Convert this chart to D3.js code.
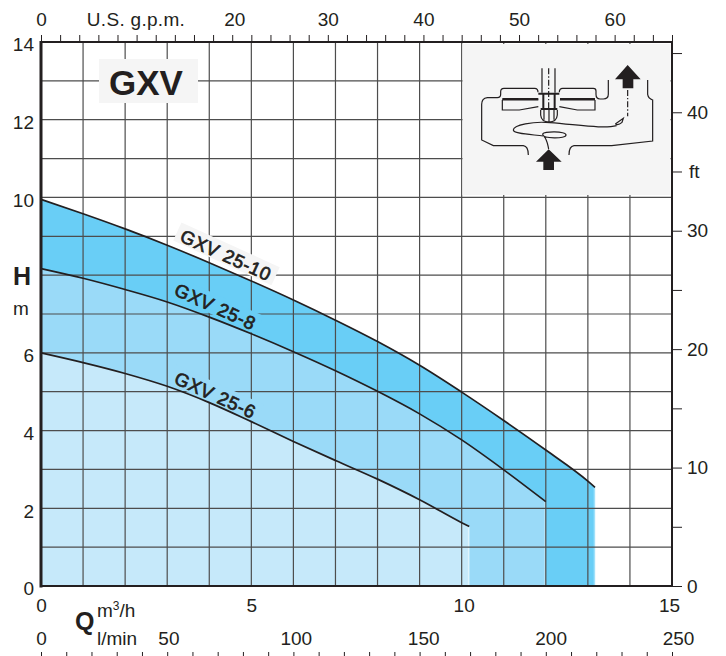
<!DOCTYPE html>
<html>
<head>
<meta charset="utf-8">
<script src="https://cdn.jsdelivr.net/npm/d3@7"></script>
<style>
body { margin: 0; background: #fff; }
svg { display: block; }
text { font-family: "Liberation Sans", Arial, sans-serif; fill: #231f20; }
</style>
</head>
<body>
<script>
// curve readings, Q in m3/h and H in m
var q10 = [0, 1, 2, 3, 4, 5, 6, 7, 8, 9, 10, 11, 12, 13, 13.17];
var h10 = [9.95, 9.58, 9.19, 8.77, 8.32, 7.85, 7.36, 6.84, 6.29, 5.68, 4.99, 4.26, 3.50, 2.70, 2.54];
var q8 = [0, 1, 2, 3, 4, 5, 6, 7, 8, 9, 10, 11, 12];
var h8 = [8.17, 7.92, 7.63, 7.31, 6.92, 6.49, 6.03, 5.54, 5.01, 4.43, 3.76, 2.99, 2.17];
var q6 = [0, 1, 2, 3, 4, 5, 6, 7, 8, 9, 10, 10.18];
var h6 = [6.00, 5.75, 5.47, 5.14, 4.72, 4.23, 3.72, 3.23, 2.75, 2.22, 1.63, 1.53];

var curveNames = ["GXV 25-10", "GXV 25-8", "GXV 25-6"];
var curveFills = ["#69cef6", "#9adaf8", "#c6e9fa"];
var edgeFills = ["#9fe0fa", "#c6e9fa", "#def3fc"];
var labelQ = [4.33, 4.08, 4.08];
var labelH = [8.36, 7.04, 4.76];
var labelBacks = ["#f5f5f5", "#69cef6", "#9adaf8"];

var leftTicks = [0, 2, 4, 6, 10, 12, 14];
var rightLabels = [0, 10, 20, 30, 40];
var gpmLabels = [0, 20, 30, 40, 50, 60];
var m3hLabels = [0, 5, 10, 15];
var lpmLabels = [0, 50, 100, 150, 200, 250];

var W = 726, H = 656;
var left = 41, right = 672, top_ = 42, bottom = 586;
var fontSize = 19;

var svg = d3.select("body").append("svg")
	.attr("width", W)
	.attr("height", H);

var x = d3.scaleLinear().domain([0, 15]).range([left, right]);
var y = d3.scaleLinear().domain([0, 14]).range([bottom, top_]);
var gpm = d3.scaleLinear().domain([0, 66]).range([left, right]);
var ft = d3.scaleLinear().domain([0, 14 * 3.281]).range([bottom, top_]);
var lpm = d3.scaleLinear().domain([0, 250]).range([left, right]);
// the printed l/min numbers sit a little right of their ticks
var lpmText = d3.scaleLinear().domain([0, 250]).range([left, 678]);

var series = [
	{ q: q10, h: h10 },
	{ q: q8, h: h8 },
	{ q: q6, h: h6 }
];

var area = d3.area().curve(d3.curveMonotoneX).x(function (d) { return x(d[0]); }).y0(y(0)).y1(function (d) { return y(d[1]); });
var line = d3.line().curve(d3.curveMonotoneX).x(function (d) { return x(d[0]); }).y(function (d) { return y(d[1]); });

function pts(s) {
	return s.q.map(function (v, i) { return [v, s.h[i]]; });
}

// bands, biggest first
series.forEach(function (s, i) {
	svg.append("path").attr("d", area(pts(s))).attr("fill", curveFills[i]);
	var lastQ = s.q[s.q.length - 1], lastH = s.h[s.h.length - 1];
	svg.append("line")
		.attr("x1", x(lastQ) - 0.6).attr("x2", x(lastQ) - 0.6)
		.attr("y1", y(lastH)).attr("y2", y(0))
		.attr("stroke", edgeFills[i]).attr("stroke-width", 1.5);
});

var grid = svg.append("g").attr("fill", "none").attr("stroke", "#4d4d4d").attr("stroke-width", 1.2);
grid.selectAll("line.v").data(d3.range(1, 15)).enter().append("line")
	.attr("x1", function (d) { return x(d); }).attr("x2", function (d) { return x(d); })
	.attr("y1", y(14)).attr("y2", y(0));
grid.selectAll("line.h").data(d3.range(1, 14)).enter().append("line")
	.attr("x1", x(0)).attr("x2", x(15))
	.attr("y1", function (d) { return y(d); }).attr("y2", function (d) { return y(d); });

// label patches knock out the grid
var angle = 24.5;
curveNames.forEach(function (name, i) {
	var g = svg.append("g")
		.attr("transform", "translate(" + x(labelQ[i]) + "," + y(labelH[i]) + ") rotate(" + angle + ")");
	var w = i == 0 ? 108 : 96;
	g.append("rect").attr("x", -w / 2).attr("y", -18).attr("width", w).attr("height", 20)
		.attr("fill", labelBacks[i]);
});

// curves
series.forEach(function (s) {
	svg.append("path").attr("d", line(pts(s)))
		.attr("fill", "none").attr("stroke", "#231f20").attr("stroke-width", 1.7);
});

curveNames.forEach(function (name, i) {
	svg.append("text")
		.attr("transform", "translate(" + x(labelQ[i]) + "," + y(labelH[i]) + ") rotate(" + angle + ")")
		.attr("text-anchor", "middle")
		.attr("font-size", 18.5)
		.attr("letter-spacing", 0.7)
		.attr("stroke", "#231f20").attr("stroke-width", 0.7)
		.text(name);
});

// frame
svg.append("rect").attr("x", 462.5).attr("y", 44).attr("width", 208).attr("height", 151).attr("fill", "#f5f5f5");
svg.append("line").attr("x1", left).attr("x2", left).attr("y1", top_ - 1).attr("y2", bottom + 1.5).attr("stroke", "#231f20").attr("stroke-width", 3);
svg.append("line").attr("x1", left).attr("x2", right + 1).attr("y1", bottom).attr("y2", bottom).attr("stroke", "#231f20").attr("stroke-width", 2);
svg.append("line").attr("x1", left).attr("x2", right + 1).attr("y1", top_).attr("y2", top_).attr("stroke", "#231f20").attr("stroke-width", 2);
svg.append("line").attr("x1", right).attr("x2", right).attr("y1", top_ - 1).attr("y2", bottom + 1).attr("stroke", "#231f20").attr("stroke-width", 2);

function styleAxis(g) {
	g.attr("font-family", null).attr("font-size", fontSize);
	g.select(".domain").remove();
	g.selectAll("line").attr("stroke", "#231f20").attr("stroke-width", 1);
	g.selectAll("text").attr("fill", "#231f20");
}

// left H axis
svg.append("g").attr("transform", "translate(" + left + ",0)")
	.call(d3.axisLeft(y).tickValues(leftTicks).tickSize(0).tickPadding(7))
	.call(styleAxis)
	.selectAll("text").attr("dy", "0.46em");

// top g.p.m. axis
svg.append("g").attr("transform", "translate(0," + top_ + ")")
	.call(d3.axisTop(gpm).tickValues(d3.range(0, 67, 2)).tickSize(7).tickFormat(function () { return ""; }))
	.call(styleAxis);
svg.append("g").attr("transform", "translate(0,26)")
	.call(d3.axisTop(gpm).tickValues(gpmLabels).tickSize(0).tickPadding(0))
	.call(styleAxis)
	.selectAll("text").attr("dx", function (d) { return d == 20 ? 2 : 0; });
svg.append("text").attr("x", 136).attr("y", 26).attr("text-anchor", "middle").attr("font-size", fontSize)
	.attr("letter-spacing", 0.3).text("U.S. g.p.m.");

// right ft axis
svg.append("g").attr("transform", "translate(" + right + ",0)")
	.call(d3.axisRight(ft).tickValues(d3.range(0, 46, 5)).tickSize(10)
		.tickPadding(5)
		.tickFormat(function (d) { return rightLabels.indexOf(d) >= 0 ? d : ""; }))
	.call(styleAxis);
svg.append("text").attr("x", 689).attr("y", 178).attr("font-size", fontSize).text("ft");

// bottom m3/h numbers
svg.append("g").attr("transform", "translate(0,612)")
	.call(d3.axisBottom(x).tickValues(m3hLabels).tickSize(0).tickPadding(0))
	.call(styleAxis)
	.selectAll("text").attr("dy", 0).attr("dx", function (d) { return d == 15 ? -3 : d == 10 ? 2 : 0; });

// bottom l/min numbers and ticks
svg.append("g").attr("transform", "translate(0,645)")
	.call(d3.axisBottom(lpmText).tickValues(lpmLabels).tickSize(0).tickPadding(0))
	.call(styleAxis)
	.selectAll("text").attr("dy", 0);
svg.append("g").attr("transform", "translate(0,652)")
	.call(d3.axisBottom(lpm).tickValues(d3.range(0, 251, 10)).tickSize(5).tickFormat(function () { return ""; }))
	.call(styleAxis);

// axis titles
svg.append("text").attr("x", 13).attr("y", 285).attr("font-size", 25).attr("font-weight", "bold").text("H");
svg.append("text").attr("x", 13).attr("y", 315).attr("font-size", fontSize).text("m");
svg.append("text").attr("x", 75).attr("y", 630).attr("font-size", 25).attr("font-weight", "bold").text("Q");
var m3 = svg.append("text").attr("x", 97).attr("y", 617).attr("font-size", fontSize);
m3.append("tspan").text("m");
m3.append("tspan").attr("dy", -7).attr("font-size", 12).text("3");
m3.append("tspan").attr("dy", 7).text("/h");
svg.append("text").attr("x", 97).attr("y", 645).attr("font-size", fontSize).text("l/min");

// title
svg.append("rect").attr("x", 99).attr("y", 59).attr("width", 99).attr("height", 44).attr("fill", "#f5f5f5");
svg.append("text").attr("x", 146).attr("y", 95).attr("text-anchor", "middle").attr("font-size", 35).attr("font-weight", "bold").text("GXV");

// pump section sketch, drawn in 3x units
var sketch = svg.append("g").attr("transform", "translate(470,55) scale(0.3333)")
	.attr("fill", "none").attr("stroke", "#231f20").attr("stroke-width", 3.6);

var outline = [
	"M415,75 V118 Q415,132 400,132 H390 Q378,132 378,118 V108 Q378,100 370,100 H278 Q268,100 268,112",
	"M204,112 Q204,100 194,100 H102 Q92,100 92,110 V118 Q92,128 82,128 H52 Q35,130 35,148 V255 L70,272 H160 Q175,274 175,300",
	"M297,300 Q297,274 312,272 H425 L548,258 V135 Q535,130 533,118 V75",
	"M97,135 V165 H148 L205,155 M375,135 V165 H322 L268,155",
	"M97,135 H205 M270,135 H375",
	"M212,165 V180 Q214,201 237,201 Q260,201 262,180 V165 M222,165 V194 M237,165 V200 M252,165 V194",
	"M216,40 V113 M255,40 V113",
	"M440,212 C400,222 330,210 240,203 C190,198 130,210 130,225 C130,236 180,238 220,243",
	"M218,238 C218,228 290,228 288,240 C288,252 218,252 218,238 M222,244 C232,255 232,265 236,282",
	"M436,207 L460,190 L456,202 Q445,212 436,207"
];
sketch.selectAll("path.o").data(outline).enter().append("path").attr("d", function (d) { return d; });

sketch.append("path").attr("d", "M97,132 H205 M270,132 H375").attr("stroke-width", 6);
sketch.append("path").attr("d", "M205,116 H268 M220,116 V160 M254,116 V160 M212,162 H262").attr("stroke-width", 6);
sketch.append("path").attr("d", "M236,40 V160 M473,105 V184").attr("stroke-dasharray", "18 6 4 6");
sketch.selectAll("path.a").data(["M473,30 L512,73 H490 V100 H458 V73 H435 Z", "M236,283 L275,320 H252 V345 H220 V320 H198 Z"])
	.enter().append("path").attr("d", function (d) { return d; }).attr("fill", "#231f20").attr("stroke", "none");
</script>
</body>
</html>
